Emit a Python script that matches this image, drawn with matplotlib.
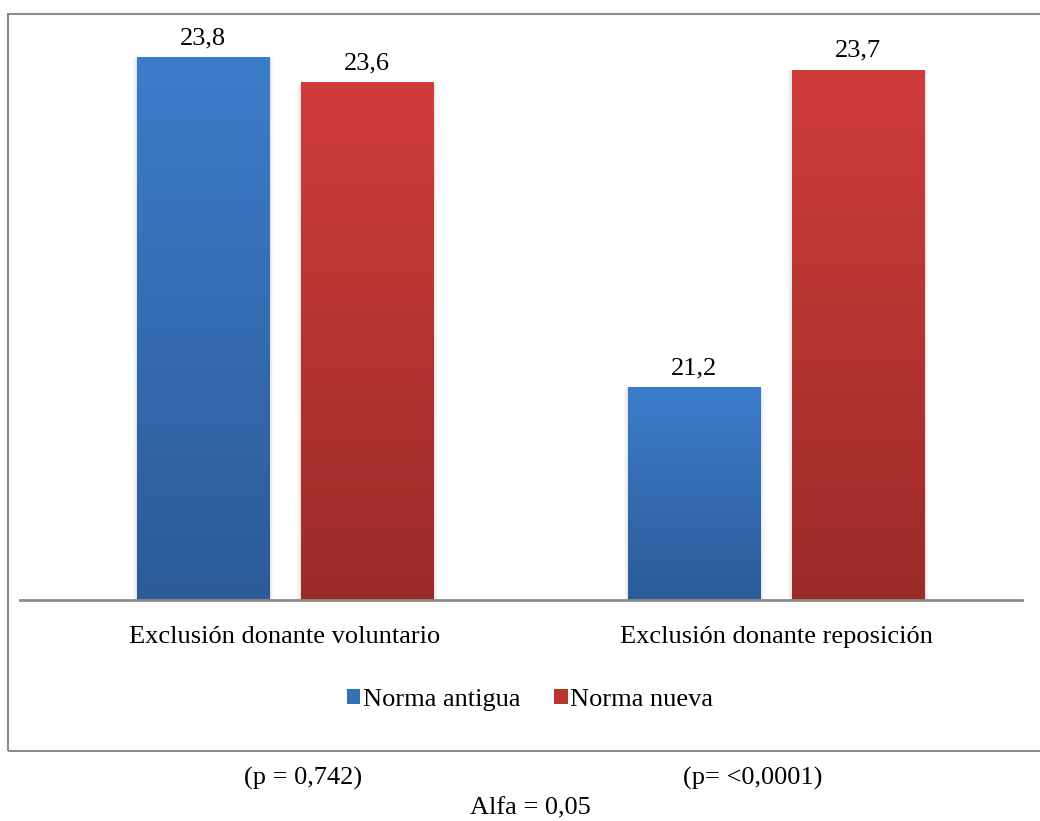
import numpy as np
import matplotlib
matplotlib.use("Agg")
import matplotlib.pyplot as plt
from matplotlib.patches import Rectangle, Patch
from matplotlib.colors import LinearSegmentedColormap

plt.rcParams['font.family'] = ['Liberation Serif', 'DejaVu Serif']

# datos
categorias = ['Exclusión donante voluntario', 'Exclusión donante reposición']
series = ['Norma antigua', 'Norma nueva']
norma_antigua = [23.8, 21.2]
norma_nueva = [23.6, 23.7]
etiquetas_p = ['(p = 0,742)', '(p= <0,0001)']
alfa = 'Alfa = 0,05'

# colores degradados (arriba, abajo)
col_azul = ('#3c7dcb', '#2c5b97')
col_rojo = ('#cf3d3a', '#9b2b29')

FS = 19
W, H = 1040, 821
fig = plt.figure(figsize=(W / 100, H / 100), dpi=100)

# marco del grafico
fig.patches.append(Rectangle((8 / W, 1 - 751 / H), 1.2, (751 - 14) / H,
                             transform=fig.transFigure, fill=False,
                             edgecolor='#8c8c8c', linewidth=1.5))

ax = fig.add_axes([20 / W, 1 - 600 / H, (1022 - 20) / W, (600 - 20) / H])
ymin, ymax = 19.524, 24.09
ax.set_xlim(-0.540, 1.501)
ax.set_ylim(ymin, ymax)
for s in ax.spines.values():
    s.set_visible(False)
ax.set_yticks([])
ax.set_xticks([])
ax.axhline(ymin, color='#8c8c8c', linewidth=2, zorder=5, clip_on=False)

ancho = 0.269
desp = 0.167
x = np.arange(len(categorias))


def barra_degradado(xc, valor, colores):
    cmap = LinearSegmentedColormap.from_list('g', [colores[1], colores[0]])
    x0 = xc - ancho / 2
    # sombra suave a los lados
    for k, a in enumerate([0.05, 0.035, 0.02]):
        d = 0.003 * (k + 1)
        ax.add_patch(Rectangle((x0 - d, ymin), ancho + 2 * d, valor - ymin - 0.01,
                               facecolor='black', alpha=a, edgecolor='none', zorder=1))
    grad = np.linspace(0, 1, 256).reshape(-1, 1)
    im = ax.imshow(grad, cmap=cmap, aspect='auto', origin='lower',
                   extent=[x0, x0 + ancho, ymin, valor], zorder=2)
    r = Rectangle((x0, ymin), ancho, valor - ymin, facecolor='none', edgecolor='none')
    ax.add_patch(r)
    im.set_clip_path(r)
    ax.text(xc, valor + 0.06, f'{valor:.1f}'.replace('.', ','), ha='center', va='bottom',
            fontsize=FS)


for i in x:
    barra_degradado(i - desp, norma_antigua[i], col_azul)
    barra_degradado(i + desp, norma_nueva[i], col_rojo)
    ax.text(i, ymin - 0.295, categorias[i], ha='center', va='center', fontsize=FS)

ax.set_xlim(-0.540, 1.501)
ax.set_ylim(ymin, ymax)

handles = [Patch(facecolor='#3470b5', edgecolor='none'),
           Patch(facecolor='#b93532', edgecolor='none')]
fig.legend(handles, series, loc='center', bbox_to_anchor=(530 / W, 1 - 700 / H),
           ncol=2, frameon=False, fontsize=FS, handlelength=0.5, handleheight=0.5,
           handletextpad=0.1, columnspacing=1.3)

fig.text(303 / W, 1 - 778 / H, etiquetas_p[0], ha='center', va='center', fontsize=FS)
fig.text(753 / W, 1 - 778 / H, etiquetas_p[1], ha='center', va='center', fontsize=FS)
fig.text(530 / W, 1 - 808 / H, alfa, ha='center', va='center', fontsize=FS)

fig.savefig('out.png', dpi=100, facecolor='white')
